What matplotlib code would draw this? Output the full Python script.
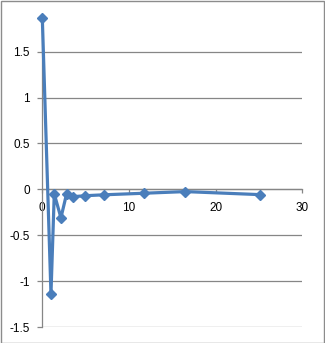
import matplotlib
matplotlib.use("Agg")
import matplotlib.pyplot as plt
from matplotlib.patches import Rectangle

x_vals = [0, 1.0, 1.38, 2.15, 2.8, 3.58, 4.96, 7.08, 11.7, 16.5, 25.1]
y_vals = [1.87, -1.14, -0.05, -0.31, -0.05, -0.08, -0.07, -0.06, -0.043, -0.025, -0.058]
x_ticks = [0, 10, 20, 30]
y_ticks = [-1.5, -1, -0.5, 0, 0.5, 1, 1.5]
y_labels = ["-1.5", "-1", "-0.5", "0", "0.5", "1", "1.5"]

plt.rcParams['font.family'] = ['Liberation Sans', 'DejaVu Sans']
grid_col = "#868686"
blue = "#4A7EBB"

W, H = 325, 343
fig = plt.figure(figsize=(W / 100, H / 100), dpi=100)

# plot area in pixel coordinates
left_px, right_px = 42.3, 302.3
bottom_px, zero_px = 327.0, 189.3
px_per_unit = (bottom_px - zero_px) / 1.5
y_top = 1.9
top_px = zero_px - y_top * px_per_unit

ax = fig.add_axes([left_px / W, 1 - bottom_px / H,
                   (right_px - left_px) / W, (bottom_px - top_px) / H])

ax.plot(x_vals, y_vals, color=blue, linewidth=2.3, marker='D', markersize=5.5,
        markeredgecolor=blue, clip_on=False, zorder=3)

ax.set_xlim(0, 30)
ax.set_ylim(-1.5, y_top)
ax.set_xticks(x_ticks)
ax.set_yticks(y_ticks)
ax.set_yticklabels(y_labels)

ax.yaxis.grid(True, color=grid_col, linewidth=0.9)
ax.set_axisbelow(True)

for s in ["top", "right"]:
    ax.spines[s].set_visible(False)
ax.spines["left"].set_color(grid_col)
ax.spines["left"].set_linewidth(0.9)
ax.spines["bottom"].set_position(("data", 0))
ax.spines["bottom"].set_color(grid_col)
ax.spines["bottom"].set_linewidth(0.9)

ax.tick_params(axis="y", direction="out", length=3.6, width=0.9, color=grid_col,
               pad=5.5, labelsize=8.5, labelcolor="black")
ax.tick_params(axis="x", direction="out", length=3.0, width=0.9, color=grid_col,
               pad=6, labelsize=8.5, labelcolor="black")

# chart border
fig.patches.append(Rectangle((0.5 / W, 0.5 / H), 1 - 1.5 / W, 1 - 1.5 / H,
                             transform=fig.transFigure, fill=False,
                             edgecolor="#8c8c8c", linewidth=1.0))

fig.savefig("out.png", dpi=100)
